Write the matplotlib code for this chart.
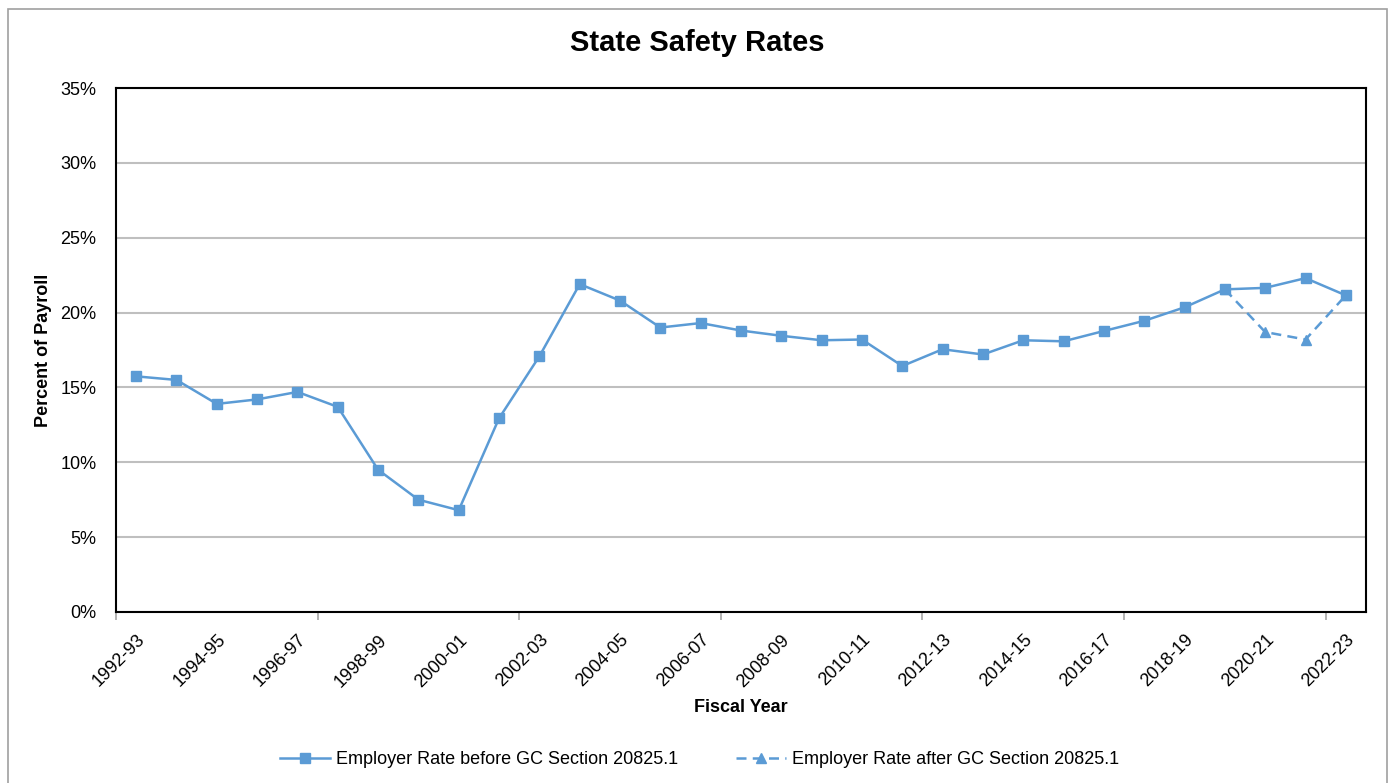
import matplotlib.pyplot as plt
import matplotlib.ticker as mtick
from matplotlib.patches import Rectangle
import numpy as np

years = ["1992-93", "1993-94", "1994-95", "1995-96", "1996-97", "1997-98",
         "1998-99", "1999-00", "2000-01", "2001-02", "2002-03", "2003-04",
         "2004-05", "2005-06", "2006-07", "2007-08", "2008-09", "2009-10",
         "2010-11", "2011-12", "2012-13", "2013-14", "2014-15", "2015-16",
         "2016-17", "2017-18", "2018-19", "2019-20", "2020-21", "2021-22",
         "2022-23"]
rate_before = [15.74, 15.5, 13.9, 14.2, 14.7, 13.7, 9.5, 7.5, 6.8, 12.94,
               17.08, 21.9, 20.8, 19.0, 19.3, 18.8, 18.45, 18.15, 18.2, 16.43,
               17.55, 17.2, 18.15, 18.08, 18.77, 19.45, 20.35, 21.55, 21.65,
               22.3, 21.15]
after_years = ["2019-20", "2020-21", "2021-22", "2022-23"]
rate_after = [21.55, 18.7, 18.2, 21.15]

label_before = "Employer Rate before GC Section 20825.1"
label_after = "Employer Rate after GC Section 20825.1"

plt.rcParams['font.family'] = ['Liberation Sans', 'DejaVu Sans']
blue = "#5B9BD5"

fig = plt.figure(figsize=(13.9, 7.83), dpi=100)
ax = fig.add_axes([116/1390, 1-612/783, 1250/1390, 524/783])

x = np.arange(len(years))
xa = np.array([years.index(y) for y in after_years])
ax.plot(xa, np.array(rate_after)/100, "--^", color=blue, linewidth=1.8,
        markersize=7, dashes=(4, 2.5), label=label_after, zorder=3)
ax.plot(x, np.array(rate_before)/100, "-s", color=blue, linewidth=1.8,
        markersize=6.5, label=label_before, zorder=4)

ax.set_xlim(-0.5, len(years)-0.5)
ax.set_ylim(0, 0.35)
ax.set_yticks(np.arange(0, 0.351, 0.05))
ax.yaxis.set_major_formatter(mtick.PercentFormatter(1.0, decimals=0))
ax.grid(axis="y", color="#BFBFBF", linewidth=1.5)
ax.set_axisbelow(True)
for s in ax.spines.values():
    s.set_linewidth(1.5)
    s.set_color("black")

ax.set_xticks(x[::2])
ax.set_xticklabels(years[::2], rotation=45, ha="right", rotation_mode="anchor")
ax.set_xticks(np.arange(-0.5, len(years), 5), minor=True)
ax.tick_params(axis="x", which="major", length=0, pad=14, labelsize=13)
ax.tick_params(axis="x", which="minor", length=6, width=1.2, color="#A6A6A6")
ax.tick_params(axis="y", length=0, pad=14, labelsize=13)

ax.set_xlabel("Fiscal Year", fontsize=13, fontweight="bold", labelpad=6)
ax.set_ylabel("Percent of Payroll", fontsize=13, fontweight="bold", labelpad=6)
fig.text(0.5016, 1-43/783, "State Safety Rates", ha="center", va="center",
         fontsize=21, fontweight="bold")

h, l = ax.get_legend_handles_labels()
fig.legend(h[::-1], l[::-1], loc="center", bbox_to_anchor=(0.503, 1-760/783),
           ncol=2, frameon=False, fontsize=13, handlelength=2.8,
           columnspacing=3.2, handletextpad=0.3)

fig.patches.append(Rectangle((8/1390, -0.05), 1379/1390, 1.05-9/783,
                             transform=fig.transFigure, fill=False,
                             edgecolor="#A0A0A0", linewidth=1.2))

fig.savefig("out.png", dpi=100)
